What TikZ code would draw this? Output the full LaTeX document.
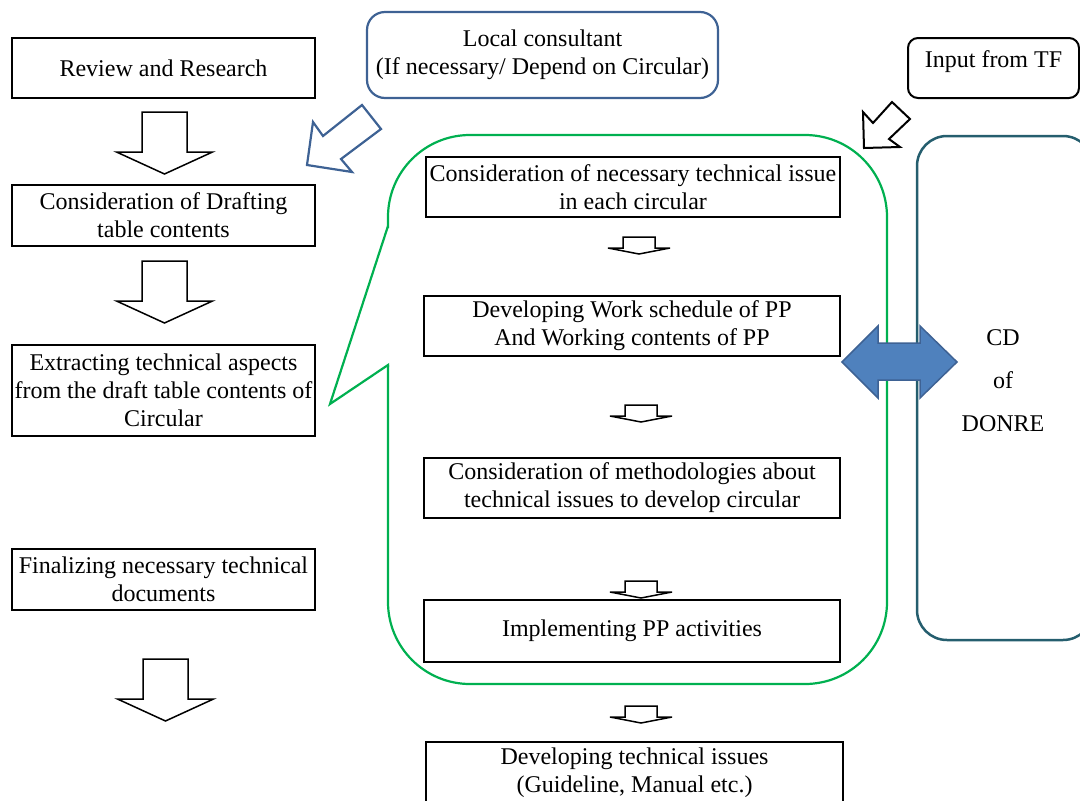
\documentclass[tikz,border=0pt]{standalone}
\usepackage{fontspec}
\setmainfont{Liberation Serif}
\definecolor{calloutgreen}{RGB}{0,176,80}
\definecolor{edgeblue}{RGB}{62,98,148}
\definecolor{fillblue}{RGB}{79,129,189}
\definecolor{darkteal}{RGB}{37,94,110}
\begin{document}
\begin{tikzpicture}[x=1pt,y=-1pt,
  every node/.style={font=\fontsize{24pt}{28pt}\selectfont, align=center, inner sep=0pt},
  stepbox/.style={draw=black, line width=1.5pt, rectangle, minimum height=60pt},
  leftbox/.style={stepbox, minimum width=303pt},
  innerbox/.style={stepbox, minimum width=416pt},
  consultbox/.style={draw=edgeblue, line width=2.2pt, rounded corners=18pt, minimum width=351pt, minimum height=86pt},
  tfbox/.style={draw=black, line width=2pt, rounded corners=10pt, minimum width=171pt, minimum height=60pt, text depth=17pt},
  cdbox/.style={draw=darkteal, line width=2.5pt, rounded corners=30pt, minimum width=176pt, minimum height=504pt},
  blockline/.style={draw=black, line width=1.5pt, fill=white, line join=miter},
  bigdown/.pic={\path[blockline] (-22.5,0) -- (22.5,0) -- (22.5,40) -- (48,40) -- (0,62) -- (-48,40) -- (-22.5,40) -- cycle;},
  smalldown/.pic={\path[blockline] (-16,0) -- (16,0) -- (16,11) -- (31,11) -- (0,17) -- (-31,11) -- (-16,11) -- cycle;}
]
\useasboundingbox (0,0) rectangle (1080,801);
\clip (0,0) rectangle (1080,801);

% left column
\node[leftbox] (review)   at (163.5,68)    {Review and Research};
\node[leftbox, minimum height=61pt] (drafting) at (163.5,215.5) {Consideration of Drafting\\table contents};
\node[leftbox, minimum height=91pt] (extract)  at (163.5,390.5) {Extracting technical aspects\\from the draft table contents of\\Circular};
\node[leftbox, minimum height=61pt] (final)    at (163.5,579.5) {Finalizing necessary technical\\documents};

\pic at (164.5,112) {bigdown};
\pic at (164.5,261) {bigdown};
\pic at (165.5,659) {bigdown};

% consultant and task force inputs
\node[consultbox] (consult) at (542.5,55) {Local consultant\\(If necessary/ Depend on Circular)};
\node[tfbox] (tf) at (993.5,68) {Input from TF};

\draw[draw=edgeblue, line width=2.2pt, fill=white, line join=miter]
  (307,165) -- (313,122) -- (323,136) -- (362,105) -- (381,129) -- (341,159) -- (352,172) -- cycle;
\draw[draw=black, line width=2pt, fill=white, line join=miter]
  (864,148) -- (863,112) -- (873,123) -- (892,102) -- (910,119) -- (889,139) -- (900,147) -- cycle;

% speech-bubble frame around the PP steps
\draw[calloutgreen, line width=2.2pt, rounded corners=82pt]
  (388,365) -- (388,684) -- (887,684) -- (887,135) -- (388,135) -- (388,228);
\draw[calloutgreen, line width=2.2pt, line join=miter]
  (388,226) -- (330,404) -- (388,365) -- (388,367);

% PP steps
\node[innerbox, minimum width=414pt] (issue)   at (633,187)   {Consideration of necessary technical issue\\in each circular};
\node[innerbox] (schedule) at (632,326)   {Developing Work schedule of PP\\And Working contents of PP};
\node[innerbox] (method)   at (632,488)   {Consideration of methodologies about\\technical issues to develop circular};
\node[innerbox, minimum height=62pt] (implement) at (632,631) {Implementing PP activities};
\node[innerbox, minimum width=417pt, minimum height=61pt] (develop) at (634.5,772.5) {Developing technical issues\\(Guideline, Manual etc.)};

\pic at (639,237) {smalldown};
\pic at (641,405) {smalldown};
\pic at (641,581) {smalldown};
\pic at (641,706) {smalldown};

% CD of DONRE
\node[cdbox] (cd) at (1005,388) {};
\node (cdtext) at (1003,381) {CD\\[15pt]of\\[15pt]DONRE};

% two-way exchange between the PP steps and CD
\draw[draw=edgeblue, line width=1.5pt, fill=fillblue, line join=miter]
  (842,362) -- (878,326) -- (878,343) -- (920,343) -- (920,326) -- (957,362)
  -- (920,398) -- (920,380) -- (878,380) -- (878,398) -- cycle;
\end{tikzpicture}
\end{document}
